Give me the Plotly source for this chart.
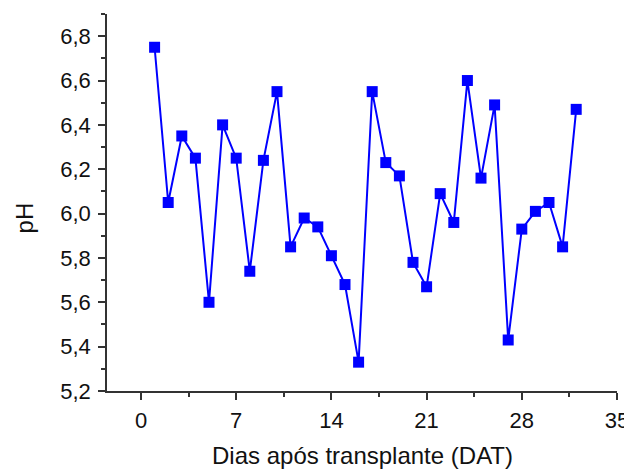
import plotly.graph_objects as go

dias = list(range(1, 33))
ph = [6.75, 6.05, 6.35, 6.25, 5.60, 6.40, 6.25, 5.74, 6.24, 6.55,
      5.85, 5.98, 5.94, 5.81, 5.68, 5.33, 6.55, 6.23, 6.17, 5.78,
      5.67, 6.09, 5.96, 6.60, 6.16, 6.49, 5.43, 5.93, 6.01, 6.05,
      5.85, 6.47]
x_ticks = [0, 7, 14, 21, 28, 35]
y_ticks = [5.2, 5.4, 5.6, 5.8, 6.0, 6.2, 6.4, 6.6, 6.8]

fig = go.Figure()
fig.add_trace(go.Scatter(
    x=dias, y=ph, mode="lines+markers",
    line=dict(color="#0000FF", width=2),
    marker=dict(symbol="square", size=11, color="#0000FF", line=dict(width=0)),
    showlegend=False,
))

axis_common = dict(
    showline=True, linecolor="#333333", linewidth=1.5,
    ticks="outside", ticklen=7, tickwidth=1.5, tickcolor="#333333",
    showgrid=False, zeroline=False, mirror=False, automargin=False,
    tickfont=dict(family="Liberation Sans, Arial", size=22, color="#111111"),
)

# page body has an 8px margin, so the figure is sized/offset to compensate
fig.update_layout(
    width=624, height=461,
    margin=dict(l=99, r=15, t=6, b=78),
    paper_bgcolor="white", plot_bgcolor="white",
    separators=",.",
    xaxis=dict(
        range=[-2.5, 35], tickvals=x_ticks, ticklabelstandoff=2,
        minor=dict(tickvals=[3.5, 10.5, 17.5, 24.5, 31.5], ticks="outside",
                   ticklen=4, tickwidth=1.5, tickcolor="#333333"),
        **axis_common,
    ),
    yaxis=dict(
        range=[5.2, 6.9], tickvals=y_ticks, tickformat=".1f", ticklabelstandoff=3,
        minor=dict(tickvals=[5.3, 5.5, 5.7, 5.9, 6.1, 6.3, 6.5, 6.7, 6.9], ticks="outside",
                   ticklen=4, tickwidth=1.5, tickcolor="#333333"),
        **axis_common,
    ),
    annotations=[
        dict(text="Dias após transplante (DAT)", xref="paper", yref="paper",
             x=0.5, y=-0.17, xanchor="center", yanchor="middle", showarrow=False,
             font=dict(family="Liberation Sans, Arial", size=24, color="#111111")),
        dict(text="pH", xref="paper", yref="paper", textangle=-90,
             x=-0.161, y=0.46, xanchor="center", yanchor="middle", showarrow=False,
             font=dict(family="Liberation Sans, Arial", size=24, color="#111111")),
    ],
)

fig.write_html("out.html")
